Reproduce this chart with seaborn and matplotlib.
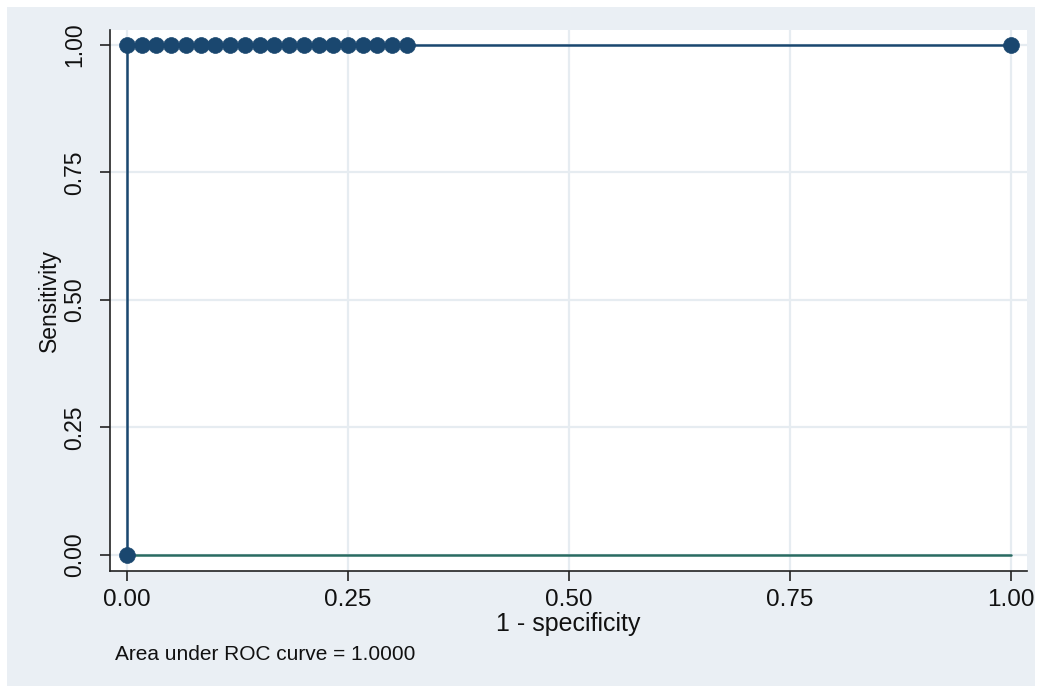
import matplotlib
matplotlib.use("Agg")
import matplotlib.pyplot as plt
import seaborn as sns
import pandas as pd
from matplotlib.patches import Rectangle

# ROC points (1 - specificity, sensitivity)
fpr = [0.0, 0.0, 0.0167, 0.0333, 0.05, 0.0667, 0.0833, 0.1, 0.1167, 0.1333,
       0.15, 0.1667, 0.1833, 0.2, 0.2167, 0.2333, 0.25, 0.2667, 0.2833, 0.3,
       0.3167, 1.0]
tpr = [0.0, 1.0, 1.0, 1.0, 1.0, 1.0, 1.0, 1.0, 1.0, 1.0,
       1.0, 1.0, 1.0, 1.0, 1.0, 1.0, 1.0, 1.0, 1.0, 1.0,
       1.0, 1.0]
ref_x = [0.0, 1.0]
ref_y = [0.0, 0.0]
ticks = [0.0, 0.25, 0.5, 0.75, 1.0]
tick_labels = ["0.00", "0.25", "0.50", "0.75", "1.00"]
note = "Area under ROC curve = 1.0000"

sns.set_theme(style="white")
plt.rcParams["font.family"] = ["Liberation Sans", "DejaVu Sans"]

navy = "#1a476f"
teal = "#2a6b62"
bg = "#eaeff4"

fig = plt.figure(figsize=(10.4, 6.86), dpi=100, facecolor="white")
fig.patches.append(Rectangle((7 / 1040, 0), (1035 - 7) / 1040, 1 - 7 / 686,
                             transform=fig.transFigure, facecolor=bg,
                             edgecolor="none", zorder=-10))
ax = fig.add_axes([110 / 1040, 1 - 571 / 686, (1027 - 110) / 1040, (571 - 30) / 686])
ax.set_zorder(1)
ax.set_facecolor("white")

roc = pd.DataFrame({"fpr": fpr, "tpr": tpr})
ref = pd.DataFrame({"x": ref_x, "y": ref_y})

sns.lineplot(data=ref, x="x", y="y", ax=ax, color=teal, linewidth=1.8,
             estimator=None, sort=False, zorder=2)
sns.lineplot(data=roc, x="fpr", y="tpr", ax=ax, color=navy, linewidth=1.8,
             estimator=None, sort=False, zorder=3)
sns.scatterplot(data=roc, x="fpr", y="tpr", ax=ax, color=navy, s=130,
                edgecolor=navy, linewidth=0.5, zorder=4)

ax.set_xlim(-0.0192, 1.018)
ax.set_ylim(-0.0314, 1.0294)
ax.set_xticks(ticks)
ax.set_xticklabels(tick_labels)
ax.set_yticks(ticks)
ax.set_yticklabels(tick_labels, rotation=90, va="center")
ax.grid(True, color="#e6ecf1", linewidth=1.6)
ax.set_axisbelow(True)
for s in ["top", "right"]:
    ax.spines[s].set_visible(False)
for s in ["left", "bottom"]:
    ax.spines[s].set_color("#222222")
    ax.spines[s].set_linewidth(1.2)
ax.tick_params(axis="both", direction="out", length=7, width=1.2,
               color="#222222", labelcolor="#111111",
               left=True, bottom=True)
ax.tick_params(axis="x", labelsize=17.5, pad=6)
ax.tick_params(axis="y", labelsize=16.5, pad=10)
ax.set_xlabel("1 - specificity", fontsize=18, color="#111111", labelpad=1)
ax.set_ylabel("Sensitivity", fontsize=16.5, color="#111111", labelpad=2)
fig.text(115 / 1040, 1 - 655 / 686, note, fontsize=15, color="#111111",
         va="center", ha="left")

fig.savefig("out.png", dpi=100, facecolor=fig.get_facecolor())
